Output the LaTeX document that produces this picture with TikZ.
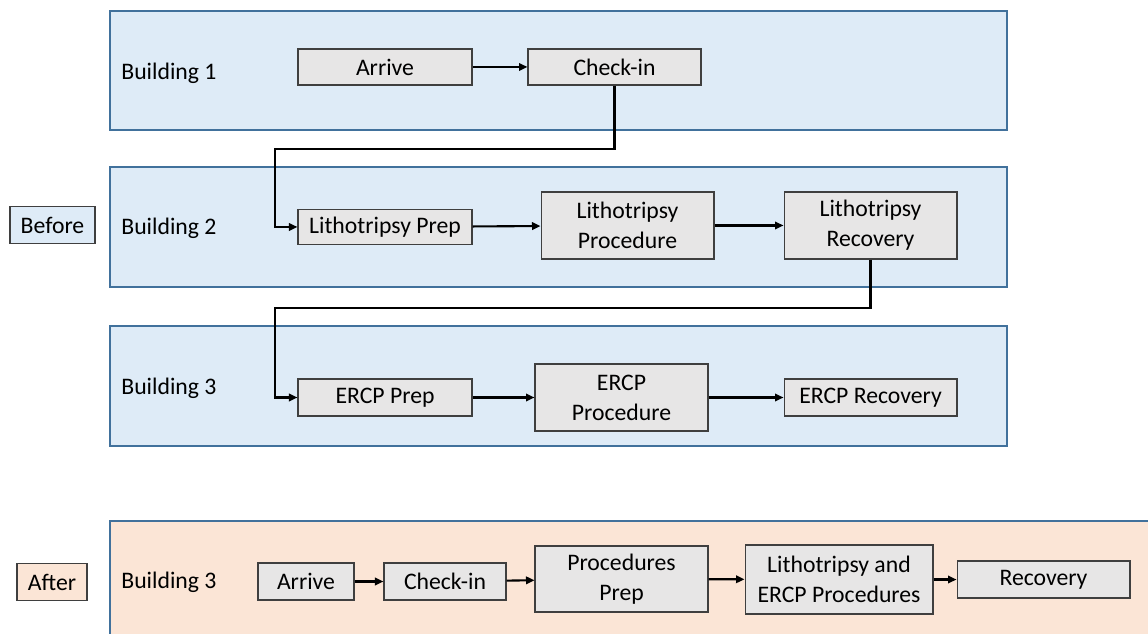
\documentclass[tikz,border=0pt]{standalone}
\usepackage{fontspec}
\setmainfont{Carlito}
\usetikzlibrary{arrows.meta}
\definecolor{panelblue}{HTML}{DEEBF7}
\definecolor{panelline}{HTML}{41719C}
\definecolor{panelpeach}{HTML}{FBE5D6}
\definecolor{boxgray}{HTML}{E7E6E6}
\definecolor{boxline}{HTML}{3F3F3F}
\tikzstyle{panel}=[fill=panelblue,draw=panelline,line width=0.8pt]
\tikzstyle{procbox}=[draw=boxline,fill=boxgray,line width=0.6pt,inner sep=0pt,align=center,font=\fontsize{13.5}{17}\selectfont]
\tikzstyle{tagbox}=[draw=boxline,line width=0.6pt,inner sep=0pt,minimum height=0.74cm,font=\fontsize{13.5}{17}\selectfont]
\tikzstyle{flow}=[line width=1.2pt,-{Triangle[length=1.7mm,width=1.5mm]}]
\newcommand{\buildinglabel}[3]{
  \node[anchor=west,inner sep=0pt,font=\fontsize{13.5}{17}\selectfont] (#1) at (121,#2) {#3};
}

\begin{document}
\begin{tikzpicture}[x=0.02cm,y=-0.02cm]
	\useasboundingbox (0,0) rectangle (1148,634);
	% before: three buildings
	\draw[panel] (110,11) rectangle (1007,130);
	\draw[panel] (110,167) rectangle (1007,287);
	\draw[panel] (110,326) rectangle (1007,446);
	\buildinglabel{bone}{73}{Building 1}
	\buildinglabel{btwo}{228}{Building 2}
	\buildinglabel{bthree}{388}{Building 3}
	\node[tagbox,fill=panelblue,minimum width=1.7cm] (before) at (52.5,225) {Before};

	\node[procbox,minimum width=3.48cm,minimum height=0.72cm] (arrive) at (385,67) {Arrive};
	\node[procbox,minimum width=3.46cm,minimum height=0.72cm] (checkin) at (614.5,67) {Check-in};
	\node[procbox,minimum width=3.48cm,minimum height=0.70cm] (lithoprep) at (385,227) {Lithotripsy Prep};
	\node[procbox,minimum width=3.46cm,minimum height=1.34cm] (lithoproc) at (627.5,225.5) {Lithotripsy\\Procedure};
	\node[procbox,minimum width=3.46cm,minimum height=1.34cm] (lithorec) at (870.5,225.5) {Lithotripsy\\Recovery};
	\node[procbox,minimum width=3.48cm,minimum height=0.74cm] (ercpprep) at (385,397.5) {ERCP Prep};
	\node[procbox,minimum width=3.46cm,minimum height=1.34cm] (ercpproc) at (621.5,397.5) {ERCP\\Procedure};
	\node[procbox,minimum width=3.46cm,minimum height=0.74cm] (ercprec) at (870.5,397.5) {ERCP Recovery};

	\coordinate (turnone) at (275,149);
	\coordinate (turntwo) at (275,308);
	\draw[flow] (arrive) -- (checkin);
	\draw[flow] (checkin.south) |- (turnone) |- (lithoprep.west);
	\draw[flow] (lithoprep) -- (lithoproc);
	\draw[flow] (lithoproc) -- (lithorec);
	\draw[flow] (lithorec.south) |- (turntwo) |- (ercpprep.west);
	\draw[flow] (ercpprep) -- (ercpproc);
	\draw[flow] (ercpproc) -- (ercprec);

	% after: one building
	\fill[panelpeach] (110,521) rectangle (1148,634);
	\draw[draw=panelline,line width=0.8pt] (110,634) -- (110,521) -- (1148,521);
	\buildinglabel{bafter}{582}{Building 3}
	\node[tagbox,fill=panelpeach,minimum width=1.4cm] (after) at (52,582) {After};

	\node[procbox,minimum width=1.92cm,minimum height=0.74cm] (arrivetwo) at (306,581.5) {Arrive};
	\node[procbox,minimum width=2.44cm,minimum height=0.74cm] (checkintwo) at (445,581.5) {Check-in};
	\node[procbox,minimum width=3.46cm,minimum height=1.32cm] (procprep) at (621.5,579) {Procedures\\Prep};
	\node[procbox,minimum width=3.76cm,minimum height=1.38cm] (bothproc) at (839,579.5) {Lithotripsy and\\ERCP Procedures};
	\node[procbox,minimum width=3.46cm,minimum height=0.74cm] (recovery) at (1043.5,579.5) {Recovery};

	\draw[flow] (arrivetwo) -- (checkintwo);
	\draw[flow] (checkintwo) -- (procprep);
	\draw[flow] (procprep) -- (bothproc);
	\draw[flow] (bothproc) -- (recovery);
\end{tikzpicture}
\end{document}
